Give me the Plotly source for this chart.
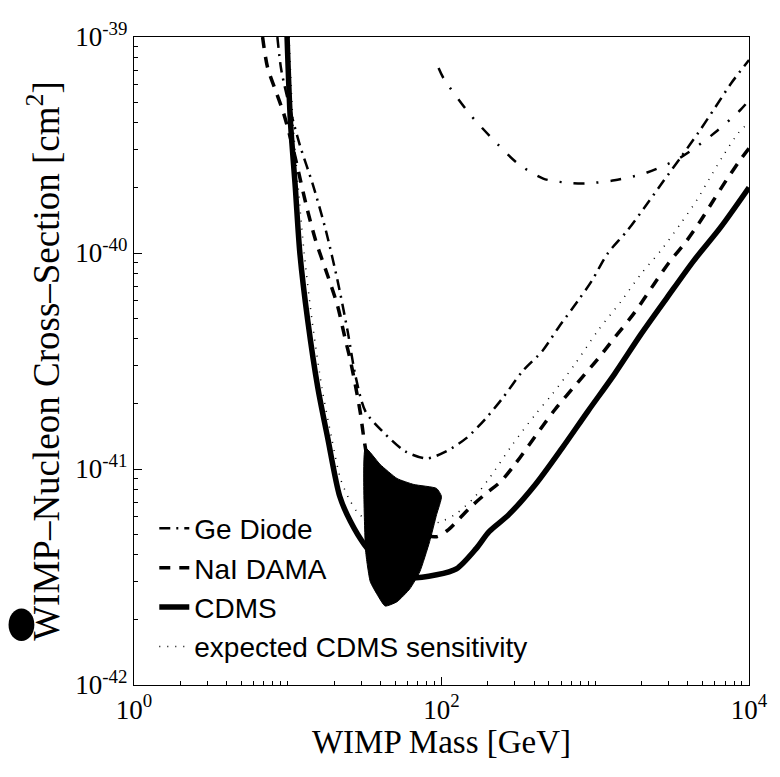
import plotly.graph_objects as go

# ---------------- data (WIMP mass in GeV, cross-section in cm^2) ----------------
cdms_mass = [9.9, 10.4, 11.2, 12.0, 13.5, 15.7, 18.2, 21.8, 25.6, 31.5, 42.4, 59.6,
             92.9, 125, 168, 204, 274, 408, 609, 895, 1334, 1990, 2925, 4365, 6513, 10000]
cdms_sigma = [1e-39, 4.11e-40, 2.01e-40, 9.93e-41, 4.85e-41, 2.37e-41, 1.39e-41, 7.46e-42,
              5.71e-42, 4.47e-42, 3.53e-42, 3.14e-42, 3.24e-42, 3.45e-42, 4.28e-42, 5.13e-42,
              6.15e-42, 8.48e-42, 1.25e-41, 1.85e-41, 2.75e-41, 4.22e-41, 6.2e-41, 9.2e-41,
              1.31e-40, 2.01e-40]

ge_mass = [8.56, 9.08, 10.4, 12.0, 14.6, 17.7, 21.1, 24.5, 27.6, 32.0, 41.1, 57.8, 80.1,
           108, 145, 195, 250, 337, 453, 574, 771, 949, 1202, 1618, 2176, 2800, 3597,
           4699, 6040, 7656, 10000]
ge_sigma = [1e-39, 7.03e-40, 4.58e-40, 3.15e-40, 2.06e-40, 1.27e-40, 7.43e-41, 4.36e-41,
            2.69e-41, 1.85e-41, 1.50e-41, 1.21e-41, 1.12e-41, 1.21e-41, 1.39e-41, 1.72e-41,
            2.13e-41, 2.84e-41, 3.52e-41, 4.50e-41, 6.0e-41, 7.43e-41, 9.93e-41, 1.27e-40,
            1.69e-40, 2.17e-40, 2.77e-40, 3.62e-40, 4.73e-40, 6.11e-40, 7.82e-40]

ge2_mass = [95.7, 103, 151, 210, 313, 459, 637, 856, 1334, 2176, 3597, 6040, 8750, 10000]
ge2_sigma = [7.18e-40, 6.45e-40, 4.44e-40, 3.43e-40, 2.60e-40, 2.21e-40, 2.12e-40, 2.10e-40,
             2.17e-40, 2.36e-40, 2.77e-40, 3.62e-40, 4.58e-40, 5.09e-40]

dama_mass = [6.86, 7.38, 8.31, 9.35, 10.5, 11.7, 13.2, 15.2, 18.2, 21.1, 23.4, 25.6, 27.6,
             29.7, 31.5, 35.5, 46.3, 64.2, 92.9, 111, 129, 156, 195, 243, 303, 408, 549,
             771, 1038, 1334, 1795, 2415, 3013, 3935, 4842, 5865, 7112, 8750, 10000]
dama_sigma = [1e-39, 7.26e-40, 5.68e-40, 4.49e-40, 3.32e-40, 2.41e-40, 1.66e-40, 1.14e-40,
              7.85e-41, 5.69e-41, 4.13e-41, 3.16e-41, 2.42e-41, 1.81e-41, 1.34e-41, 8.75e-42,
              6.15e-42, 5.13e-42, 4.86e-42, 5.24e-42, 5.83e-42, 6.70e-42, 7.71e-42, 8.75e-42,
              1.06e-41, 1.42e-41, 1.89e-41, 2.52e-41, 3.23e-41, 4.05e-41, 5.28e-41, 7.19e-41,
              9.02e-41, 1.14e-40, 1.41e-40, 1.75e-40, 2.17e-40, 2.69e-40, 3.05e-40]

exp_mass = [10.2, 10.8, 11.7, 12.8, 14.4, 16.7, 19.3, 22.1, 25.2, 29.3, 38.2, 55.3, 80.1,
            103, 125, 161, 204, 290, 408, 525, 738, 1038, 1479, 1990, 2679, 3597, 4560,
            5530, 6808, 8492, 10000]
exp_sigma = [1e-39, 4.11e-40, 2.01e-40, 9.93e-41, 4.85e-41, 2.37e-41, 1.39e-41, 8.95e-42,
             7.22e-42, 6.15e-42, 5.53e-42, 5.30e-42, 5.47e-42, 5.77e-42, 6.22e-42, 7.30e-42,
             9.04e-42, 1.30e-41, 1.79e-41, 2.22e-41, 3.06e-41, 4.36e-41, 6.0e-41, 8.02e-41,
             1.03e-40, 1.37e-40, 1.75e-40, 2.21e-40, 2.83e-40, 3.58e-40, 4.03e-40]

region_mass = [32.0, 39.9, 51.4, 66.1, 92.9, 100, 92.9, 83.7, 72.2, 62.3, 51.4, 43.0,
               38.2, 34.4, 32.9, 32.0, 32.0]
region_sigma = [1.25e-41, 1.05e-41, 9.04e-42, 8.48e-42, 8.13e-42, 7.46e-42, 6.15e-42,
                4.61e-42, 3.34e-42, 2.79e-42, 2.43e-42, 2.32e-42, 2.62e-42, 3.01e-42,
                3.61e-42, 4.28e-42, 1.25e-41]

x_tickvals = [1, 100, 10000]
x_ticktext = ["10<sup>0</sup>", "10<sup>2</sup>", "10<sup>4</sup>"]
y_tickvals = [1e-42, 1e-41, 1e-40, 1e-39]
y_ticktext = ["10<sup>-42</sup>", "10<sup>-41</sup>", "10<sup>-40</sup>", "10<sup>-39</sup>"]

# ---------------- figure ----------------
fig = go.Figure()

fig.add_trace(go.Scatter(x=ge_mass, y=ge_sigma, mode="lines", name="Ge Diode",
                         line=dict(color="black", width=2.5, dash="11px,6px,2px,6px",
                                   shape="spline", smoothing=0.8)))
fig.add_trace(go.Scatter(x=ge2_mass, y=ge2_sigma, mode="lines", showlegend=False,
                         line=dict(color="black", width=2.5, dash="11px,12px,2px,12px",
                                   shape="spline", smoothing=0.8)))
fig.add_trace(go.Scatter(x=dama_mass, y=dama_sigma, mode="lines", name="NaI DAMA",
                         line=dict(color="black", width=3.5, dash="11px,9px",
                                   shape="spline", smoothing=0.8)))
fig.add_trace(go.Scatter(x=cdms_mass, y=cdms_sigma, mode="lines", name="CDMS",
                         line=dict(color="black", width=5.5, shape="spline", smoothing=0.8)))
fig.add_trace(go.Scatter(x=exp_mass, y=exp_sigma, mode="lines",
                         name="expected CDMS sensitivity",
                         line=dict(color="black", width=1.5, dash="1px,7px",
                                   shape="spline", smoothing=0.8)))
fig.add_trace(go.Scatter(x=region_mass, y=region_sigma, mode="lines", fill="toself",
                         fillcolor="black", showlegend=False,
                         line=dict(color="black", width=1, shape="spline", smoothing=0.5)))

axis_common = dict(type="log", showline=True, linecolor="black", linewidth=1.2,
                   mirror=True, ticks="inside", ticklen=8, tickcolor="black",
                   showgrid=False, zeroline=False,
                   tickfont=dict(family="Liberation Serif", size=27, color="black"),
                   minor=dict(ticks="inside", ticklen=4, tickcolor="black",
                              dtick="D1", showgrid=False))

fig.update_xaxes(range=[0, 4], tickvals=x_tickvals, ticktext=x_ticktext,
                 title=dict(text="WIMP Mass [GeV]", standoff=0,
                            font=dict(family="Liberation Serif", size=33, color="black")),
                 **axis_common)
fig.update_yaxes(range=[-42, -39], tickvals=y_tickvals, ticktext=y_ticktext,
                 title=dict(text="WIMP–Nucleon Cross–Section [cm<sup>2</sup>]", standoff=4,
                            font=dict(family="Liberation Serif", size=37, color="black")),
                 **axis_common)

fig.update_layout(
    width=780, height=777,
    margin=dict(l=134, r=24, t=37, b=92),
    paper_bgcolor="white", plot_bgcolor="white",
    showlegend=True,
    legend=dict(x=0.033, y=0.28, xanchor="left", yanchor="top",
                bgcolor="rgba(0,0,0,0)", borderwidth=0, tracegroupgap=0,
                font=dict(family="Liberation Sans", size=28, color="black"),
                itemwidth=30),
    shapes=[dict(type="circle", xref="paper", yref="paper",
                 x0=-0.204, x1=-0.162, y0=0.068, y1=0.118,
                 fillcolor="black", line=dict(color="black", width=0))],
)

fig.write_html("out.html")
